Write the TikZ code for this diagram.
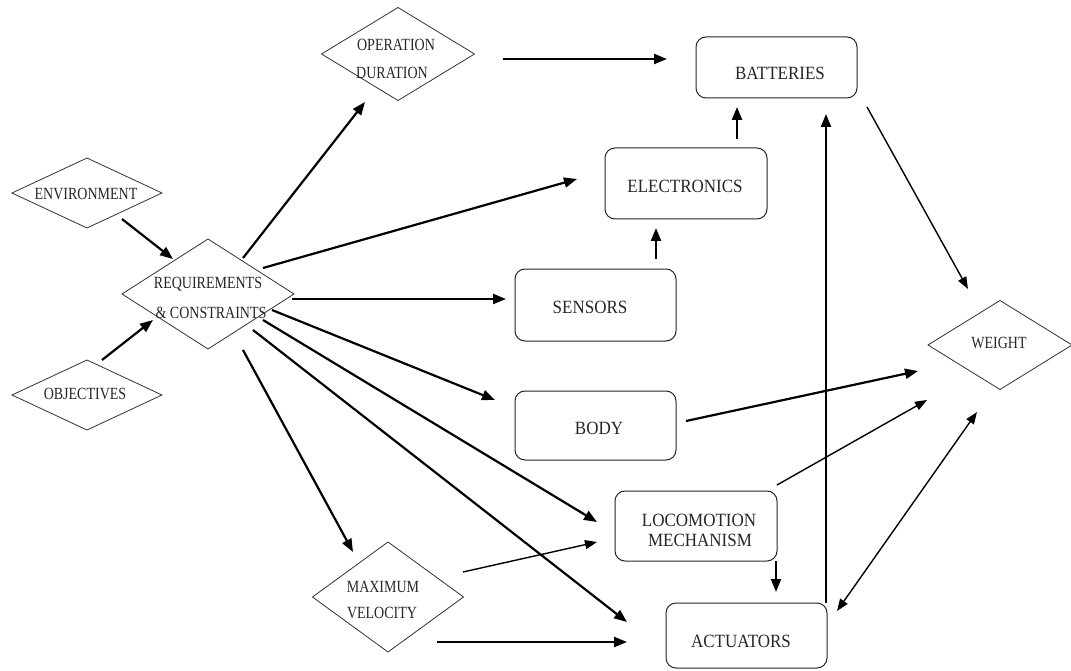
\documentclass[tikz,border=0pt]{standalone}
\usepackage{fontspec}
\usepackage{graphicx}
\setmainfont{Liberation Serif}
\usetikzlibrary{arrows.meta,shapes.geometric}
\newcommand{\dstretch}[1]{\scalebox{1}[1.22]{#1}}
\newcommand{\bstretch}[1]{\scalebox{1}[1.1]{#1}}
\begin{document}
\begin{tikzpicture}[x=1pt,y=-1pt,
  dia/.style={diamond, draw=black!80, line width=0.8pt, inner sep=0pt, outer sep=0pt},
  box/.style={draw=black!85, line width=1pt, rounded corners=10pt, inner sep=0pt, outer sep=0pt},
  dtxt/.style={font=\fontsize{14}{16}\selectfont, inner sep=0pt, text=black!85},
  btxt/.style={font=\fontsize{17}{20}\selectfont, inner sep=0pt, text=black!85},
  arr/.style={-{Triangle[length=13pt,width=10pt]}, line width=2.2pt},
  tarr/.style={-{Triangle[length=12pt,width=9pt]}, line width=1.4pt},
  tdarr/.style={{Triangle[length=12pt,width=9pt]}-{Triangle[length=12pt,width=9pt]}, line width=1.4pt}]
\useasboundingbox[fill=white] (0,0) rectangle (1071,671);

% diamonds
\node[dia, minimum width=153pt, minimum height=93pt] (op) at (398,54) {};
\node[dia, minimum width=150pt, minimum height=70pt] (env) at (87,193) {};
\node[dia, minimum width=172pt, minimum height=110pt] (req) at (208,294) {};
\node[dia, minimum width=150pt, minimum height=70pt] (obj) at (87,395) {};
\node[dia, minimum width=151pt, minimum height=110pt] (maxv) at (388,597) {};
\node[dia, minimum width=144pt, minimum height=89pt] (weight) at (1000,345) {};

\node[dtxt] (opt1) at (396,45) {\dstretch{OPERATION}};
\node[dtxt] (opt2) at (392,73) {\dstretch{DURATION}};
\node[dtxt] (envt) at (86,194) {\dstretch{ENVIRONMENT}};
\node[dtxt] (reqt1) at (208,284) {\dstretch{REQUIREMENTS}};
\node[dtxt] (reqt2) at (211,313) {\dstretch{\& CONSTRAINTS}};
\node[dtxt] (objt) at (85,394) {\dstretch{OBJECTIVES}};
\node[dtxt] (maxt1) at (383,587) {\dstretch{MAXIMUM}};
\node[dtxt] (maxt2) at (382,613) {\dstretch{VELOCITY}};
\node[dtxt] (weightt) at (999,343) {\dstretch{WEIGHT}};

% boxes
\node[box, minimum width=161pt, minimum height=61pt] (batt) at (776.5,67.5) {};
\node[box, minimum width=162pt, minimum height=71pt] (elec) at (686,183.5) {};
\node[box, minimum width=161pt, minimum height=72pt] (sens) at (595.5,305) {};
\node[box, minimum width=161pt, minimum height=69pt] (body) at (595.5,425.5) {};
\node[box, minimum width=162pt, minimum height=70pt] (loco) at (696,526) {};
\node[box, minimum width=161pt, minimum height=65pt] (act) at (746.5,635.5) {};

\node[btxt] (battt) at (780,73) {\bstretch{BATTERIES}};
\node[btxt] (elect) at (685,186) {\bstretch{ELECTRONICS}};
\node[btxt] (senst) at (590,307) {\bstretch{SENSORS}};
\node[btxt] (bodyt) at (599,428) {\bstretch{BODY}};
\node[btxt] (locot1) at (699,520) {\bstretch{LOCOMOTION}};
\node[btxt] (locot2) at (700,540) {\bstretch{MECHANISM}};
\node[btxt] (actt) at (741,641) {\bstretch{ACTUATORS}};

% connector end points (the arrows stop short of the shapes)
\coordinate (env-s) at (122,219);   \coordinate (env-e) at (173,259);
\coordinate (obj-s) at (102,360);   \coordinate (obj-e) at (153,320);
\coordinate (rop-s) at (243,258);   \coordinate (rop-e) at (365,102);
\coordinate (rel-s) at (263,268);   \coordinate (rel-e) at (577,179);
\coordinate (rse-s) at (292,299);   \coordinate (rse-e) at (506,299);
\coordinate (rbo-s) at (272,310);   \coordinate (rbo-e) at (495,400);
\coordinate (rlo-s) at (263,320);   \coordinate (rlo-e) at (597,522);
\coordinate (rac-s) at (253,330);   \coordinate (rac-e) at (627,622);
\coordinate (rmv-s) at (243,350);   \coordinate (rmv-e) at (353,552);
\coordinate (mlo-s) at (463,572);   \coordinate (mlo-e) at (597,542);
\coordinate (mac-s) at (437,642);   \coordinate (mac-e) at (627,642);
\coordinate (lac-s) at (776,561);   \coordinate (lac-e) at (776,592);
\coordinate (aba-s) at (826,603);   \coordinate (aba-e) at (826,114);
\coordinate (sel-s) at (656,259);   \coordinate (sel-e) at (656,228);
\coordinate (eba-s) at (737,139);   \coordinate (eba-e) at (737,107);
\coordinate (bwe-s) at (867,107);   \coordinate (bwe-e) at (968,289);
\coordinate (bow-s) at (686,421);   \coordinate (bow-e) at (918,371);
\coordinate (low-s) at (777,485);   \coordinate (low-e) at (927,400);
\coordinate (wac-s) at (977,412);   \coordinate (wac-e) at (837,611);
\coordinate (oba-s) at (503,59);    \coordinate (oba-e) at (667,59);

% connectors
\draw[arr] (env-s) -- (env-e);
\draw[arr] (obj-s) -- (obj-e);
\draw[arr] (rop-s) -- (rop-e);
\draw[arr] (rel-s) -- (rel-e);
\draw[arr] (rse-s) -- (rse-e);
\draw[arr] (rbo-s) -- (rbo-e);
\draw[arr] (rlo-s) -- (rlo-e);
\draw[arr] (rac-s) -- (rac-e);
\draw[arr] (rmv-s) -- (rmv-e);
\draw[tarr] (mlo-s) -- (mlo-e);
\draw[arr] (mac-s) -- (mac-e);
\draw[arr] (lac-s) -- (lac-e);
\draw[arr] (aba-s) -- (aba-e);
\draw[arr] (sel-s) -- (sel-e);
\draw[arr] (eba-s) -- (eba-e);
\draw[tarr] (bwe-s) -- (bwe-e);
\draw[arr] (bow-s) -- (bow-e);
\draw[tarr] (low-s) -- (low-e);
\draw[tdarr] (wac-s) -- (wac-e);
\draw[arr] (oba-s) -- (oba-e);
\end{tikzpicture}
\end{document}
